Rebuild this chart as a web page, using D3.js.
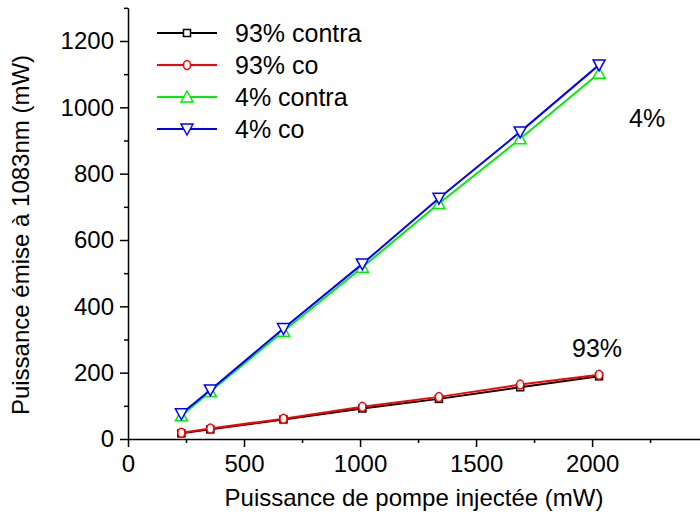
<!DOCTYPE html>
<html>
<head>
<meta charset="UTF-8" />
<script src="https://d3js.org/d3.v7.min.js"></script>
<style>
  body { margin: 0; background: #fff; }
  text { font-family: "Liberation Sans", Arial, sans-serif; }
</style>
</head>
<body>
<div id="chart"></div>
<script>
// pump power (mW)
var pump = [230, 355, 670, 1010, 1340, 1690, 2030];
// emitted power at 1083nm (mW)
var contra93 = [17, 29, 59, 92, 121, 156, 189];
var co93 = [19, 32, 61, 97, 127, 164, 194];
var contra4 = [70, 143, 325, 518, 710, 905, 1103];
var co4 = [76, 148, 333, 528, 726, 926, 1128];

var seriesNames = ["93% contra", "93% co", "4% contra", "4% co"];
var seriesData = [contra93, co93, contra4, co4];
var colors = ["#000000", "#ff0000", "#00ee00", "#0000ff"];
var symbols = ["square", "circle", "triangle", "triangleDown"];

var xTicks = [0, 500, 1000, 1500, 2000];
var yTicks = [0, 200, 400, 600, 800, 1000, 1200];

var width = 700, height = 520;
var fontSize = 24;

var svg = d3.select("#chart").append("svg")
  .attr("width", width).attr("height", height);

var x = d3.scaleLinear().domain([0, 2465]).range([128, 700]);
var y = d3.scaleLinear().domain([0, 1300]).range([439, 439 - 1300 * 398 / 1200]);

// minor ticks
var xMinor = d3.range(250, 2465, 500);
var yMinor = d3.range(100, 1301, 200);

var gx = svg.append("g").attr("transform", "translate(0," + y(0) + ")");
gx.call(d3.axisBottom(x).tickValues(xTicks).tickSize(8).tickPadding(8).tickSizeOuter(0).tickFormat(d3.format("d")));
gx.append("g").call(d3.axisBottom(x).tickValues(xMinor).tickSize(4).tickFormat("").tickSizeOuter(0))
  .select(".domain").remove();

var gy = svg.append("g").attr("transform", "translate(" + x(0) + ",0)");
gy.call(d3.axisLeft(y).tickValues(yTicks).tickSize(8).tickPadding(6).tickSizeOuter(0).tickFormat(d3.format("d")));
gy.append("g").call(d3.axisLeft(y).tickValues(yMinor).tickSize(4).tickFormat("").tickSizeOuter(0))
  .select(".domain").remove();

svg.selectAll(".domain, .tick line").attr("stroke", "#000").attr("stroke-width", 1.5);
svg.selectAll(".tick text").attr("font-size", fontSize).attr("fill", "#000")
  .style("font-family", "'Liberation Sans', Arial, sans-serif");

function marker(g, type, color) {
  if (type === "square") {
    g.append("rect").attr("x", -3.5).attr("y", -3.5).attr("width", 7).attr("height", 7);
  } else if (type === "circle") {
    g.append("ellipse").attr("rx", 3.5).attr("ry", 4.5);
  } else if (type === "triangle") {
    g.append("path").attr("d", "M0,-6L6,5L-6,5Z");
  } else {
    g.append("path").attr("d", "M0,6L6,-5L-6,-5Z");
  }
  g.selectAll("*").attr("fill", "#fff").attr("stroke", color).attr("stroke-width", 1.5);
}

var line = d3.line().x(function (d) { return x(d[0]); }).y(function (d) { return y(d[1]); });

seriesData.forEach(function (vals, s) {
  var pts = pump.map(function (p, i) { return [p, vals[i]]; });
  svg.append("path").datum(pts)
    .attr("fill", "none").attr("stroke", colors[s]).attr("stroke-width", 2)
    .attr("d", line);
  pts.forEach(function (p) {
    var g = svg.append("g").attr("transform", "translate(" + x(p[0]) + "," + y(p[1]) + ")");
    marker(g, symbols[s], colors[s]);
  });
});

// legend
var legend = svg.append("g");
seriesNames.forEach(function (name, i) {
  var yy = 33 + i * 32;
  legend.append("line").attr("x1", 157).attr("x2", 217).attr("y1", yy).attr("y2", yy)
    .attr("stroke", colors[i]).attr("stroke-width", 2);
  var g = legend.append("g").attr("transform", "translate(187," + yy + ")");
  marker(g, symbols[i], colors[i]);
  legend.append("text").attr("x", 235).attr("y", yy + 9).attr("font-size", 25).text(name);
});

// annotations
svg.append("text").attr("x", 629).attr("y", 127).attr("font-size", 25).text("4%");
svg.append("text").attr("x", 572).attr("y", 357).attr("font-size", 25).text("93%");

// axis titles
svg.append("text").attr("x", 414).attr("y", 506)
  .attr("text-anchor", "middle").attr("font-size", fontSize).text("Puissance de pompe injectée (mW)");
svg.append("text").attr("transform", "translate(29," + 235 + ") rotate(-90)")
  .attr("text-anchor", "middle").attr("font-size", fontSize).text("Puissance émise à 1083nm (mW)");
</script>
</body>
</html>
